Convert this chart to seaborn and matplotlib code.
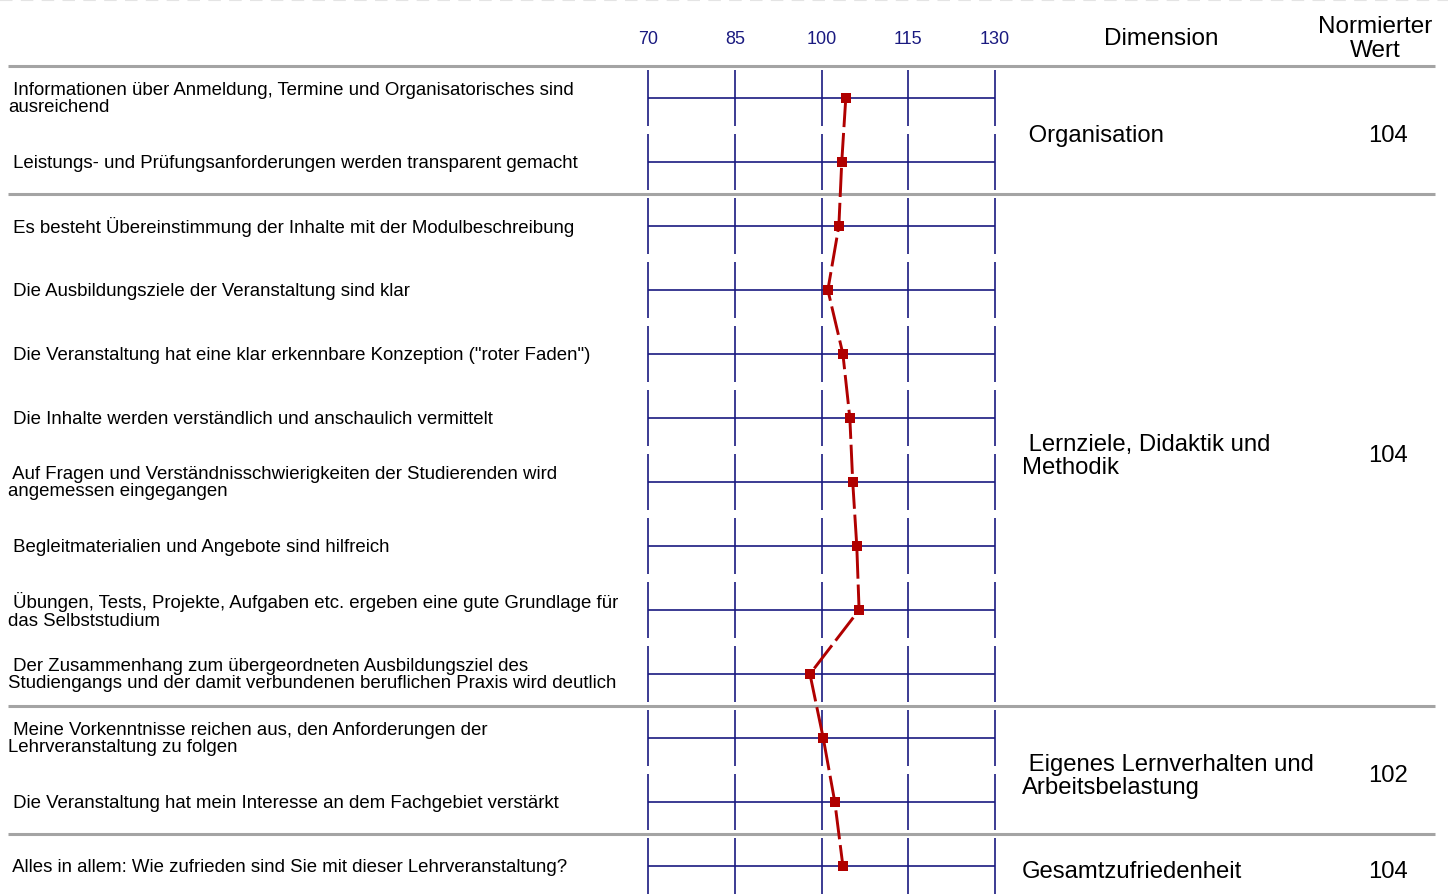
import numpy as np
import pandas as pd
import matplotlib
matplotlib.use("Agg")
import matplotlib.pyplot as plt
import matplotlib.transforms as mtransforms
import seaborn as sns

# items (questionnaire statements), one row each
items = [
    " Informationen über Anmeldung, Termine und Organisatorisches sind\nausreichend",
    " Leistungs- und Prüfungsanforderungen werden transparent gemacht",
    " Es besteht Übereinstimmung der Inhalte mit der Modulbeschreibung",
    " Die Ausbildungsziele der Veranstaltung sind klar",
    " Die Veranstaltung hat eine klar erkennbare Konzeption (\"roter Faden\")",
    " Die Inhalte werden verständlich und anschaulich vermittelt",
    " Auf Fragen und Verständnisschwierigkeiten der Studierenden wird\nangemessen eingegangen",
    " Begleitmaterialien und Angebote sind hilfreich",
    " Übungen, Tests, Projekte, Aufgaben etc. ergeben eine gute Grundlage für\ndas Selbststudium",
    " Der Zusammenhang zum übergeordneten Ausbildungsziel des\nStudiengangs und der damit verbundenen beruflichen Praxis wird deutlich",
    " Meine Vorkenntnisse reichen aus, den Anforderungen der\nLehrveranstaltung zu folgen",
    " Die Veranstaltung hat mein Interesse an dem Fachgebiet verstärkt",
    " Alles in allem: Wie zufrieden sind Sie mit dieser Lehrveranstaltung?",
]
werte = [104.2, 103.5, 103.0, 101.1, 103.7, 104.9, 105.4, 106.1, 106.5, 98.0, 100.3, 102.3, 103.7]

dimensionen = [" Organisation", " Lernziele, Didaktik und\nMethodik",
               " Eigenes Lernverhalten und\nArbeitsbelastung", "Gesamtzufriedenheit"]
dim_anzahl = [2, 8, 2, 1]
dim_werte = ["104", "104", "102", "104"]

ticks = [70, 85, 100, 115, 130]

navy = "#1a1a80"
red = "#b00000"
sep_gray = "#a4a4a4"

sns.set_theme(style="white")
plt.rcParams["font.family"] = ["Liberation Sans", "DejaVu Sans"]

W, H = 1448, 896
fig = plt.figure(figsize=(W / 100, H / 100), dpi=100)

# main axis: 70..130 between x=648 and x=995 px, rows 64px high from y=66
n = len(items)
x0, x1 = 648, 995
top = 66
row_h = 64
ax = fig.add_axes([x0 / W, (H - top - n * row_h) / H, (x1 - x0) / W, n * row_h / H])

rows = np.arange(n)
df = pd.DataFrame({"item": items, "wert": werte, "pos": rows})

# grid per row
half = 28 / row_h
for t in ticks:
    ax.vlines(np.full(n, t), rows - half, rows + half, color=navy, lw=1.2, clip_on=False)
ax.hlines(rows, ticks[0], ticks[-1], color=navy, lw=1.2)

# profile line
sns.lineplot(data=df, x="wert", y="pos", sort=False, estimator=None, orient="y",
             color=red, lw=2.1, marker="s", markersize=7.5, markeredgewidth=0,
             ax=ax, zorder=5)
ax.lines[-1].set_dashes((10, 2))
if ax.get_legend():
    ax.get_legend().remove()
ax.set_xlim(70, 130)
ax.set_ylim(n - 0.5, -0.5)
ax.axis("off")

# tick labels on top
hdr_y = -0.5 - 28 / row_h
for t in ticks:
    ax.text(t, hdr_y + 2 / row_h, str(t), color=navy, fontsize=13,
            ha="center", va="center")

# blended transform: x in figure pixels, y in row units
px = mtransforms.blended_transform_factory(
    mtransforms.Affine2D().scale(1 / W, 1) + fig.transFigure, ax.transData)

# headers
ax.text(1161, hdr_y + 1 / row_h, "Dimension", transform=px, fontsize=17.5,
        ha="center", va="center", color="black")
ax.text(1375, hdr_y + 1 / row_h, "Normierter\nWert", transform=px, fontsize=17.5,
        ha="center", va="center", color="black", linespacing=1.08)

# item texts
for i, txt in enumerate(items):
    ax.text(8, i + 1 / row_h, txt, transform=px, fontsize=13.4, ha="left", va="center",
            color="black", linespacing=1.03)

# separators and dimension labels
ax.plot([8, 1435], [-0.5, -0.5], transform=px, color=sep_gray, lw=2.2,
        clip_on=False, solid_capstyle="butt")
start = 0
for name, cnt, val in zip(dimensionen, dim_anzahl, dim_werte):
    end = start + cnt
    mid = (start + end - 1) / 2 + 0.1
    ax.text(1022, mid, name, transform=px, fontsize=17.2, ha="left", va="center",
            color="black", linespacing=1.08)
    ax.text(1388, mid, val, transform=px, fontsize=17.2, ha="center", va="center",
            color="black")
    if end < n:
        ax.plot([8, 1435], [end - 0.5, end - 0.5], transform=px, color=sep_gray,
                lw=2.2, clip_on=False, solid_capstyle="butt")
    start = end

# light dashed line at the very top
fig.add_artist(plt.Line2D([0, 1], [0.9995, 0.9995], transform=fig.transFigure,
                          color="#e4e4e4", lw=1.5, dashes=(6, 4)))

fig.savefig("out.png", dpi=100)
